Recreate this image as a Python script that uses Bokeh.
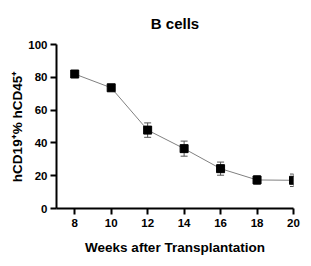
from bokeh.plotting import figure
from bokeh.models import ColumnDataSource, Whisker, FixedTicker, Range1d
from bokeh.embed import file_html
from bokeh.resources import INLINE

weeks = [8, 10, 12, 14, 16, 18, 20]
mean_pct = [82.0, 73.6, 47.8, 36.5, 24.3, 17.4, 17.2]
sem_pct = [1.0, 2.0, 4.4, 4.6, 4.0, 2.6, 3.8]
x_ticks = [8, 10, 12, 14, 16, 18, 20]
y_ticks = [0, 20, 40, 60, 80, 100]
title_text = "B cells"

src = ColumnDataSource(dict(
    x=weeks, y=mean_pct,
    lo=[m - s for m, s in zip(mean_pct, sem_pct)],
    hi=[m + s for m, s in zip(mean_pct, sem_pct)],
))

FONT = "Liberation Sans"

p = figure(width=311, height=266, output_backend="svg", toolbar_location=None,
           x_range=Range1d(7.0, 20.0), y_range=Range1d(0, 100),
           min_border_left=56, min_border_right=18, min_border_top=43,
           min_border_bottom=58, title=title_text)
p.outline_line_color = None
p.grid.visible = False
p.background_fill_color = "white"
p.border_fill_color = "white"

p.title.align = "center"
p.title.text_font = FONT
p.title.text_font_size = "15px"
p.title.text_font_style = "bold"
p.title.text_color = "black"
p.title.standoff = 25

for ax in (p.xaxis[0], p.yaxis[0]):
    ax.axis_line_color = "black"
    ax.axis_line_width = 2
    ax.major_tick_line_color = "black"
    ax.major_tick_line_width = 2
    ax.major_tick_out = 6
    ax.major_tick_in = 0
    ax.minor_tick_line_color = None
    ax.major_label_text_font = FONT
    ax.major_label_text_font_style = "bold"
    ax.major_label_text_font_size = "11.5px"
    ax.major_label_text_color = "black"
    ax.axis_label_text_font = FONT
    ax.axis_label_text_font_style = "bold"
    ax.axis_label_text_font_size = "13.5px"
    ax.axis_label_text_color = "black"

p.xaxis.ticker = FixedTicker(ticks=x_ticks)
p.yaxis.ticker = FixedTicker(ticks=y_ticks)
p.xaxis.axis_label = "Weeks after Transplantation"
p.yaxis.axis_label = "hCD19\u207a% hCD45\u207a"
p.xaxis.major_label_standoff = 4
p.yaxis.major_label_standoff = 3
p.xaxis.axis_label_standoff = 10
p.yaxis.axis_label_standoff = 0

p.line("x", "y", source=src, line_color="#808080", line_width=1)
w = Whisker(base="x", lower="lo", upper="hi", source=src,
            line_color="#555555", line_width=1)
w.upper_head.size = 7
w.lower_head.size = 7
w.upper_head.line_color = "#555555"
w.lower_head.line_color = "#555555"
p.add_layout(w)
p.scatter("x", "y", source=src, marker="square", size=8,
          fill_color="black", line_color="black")

open("out.html", "w").write(file_html(p, INLINE))
